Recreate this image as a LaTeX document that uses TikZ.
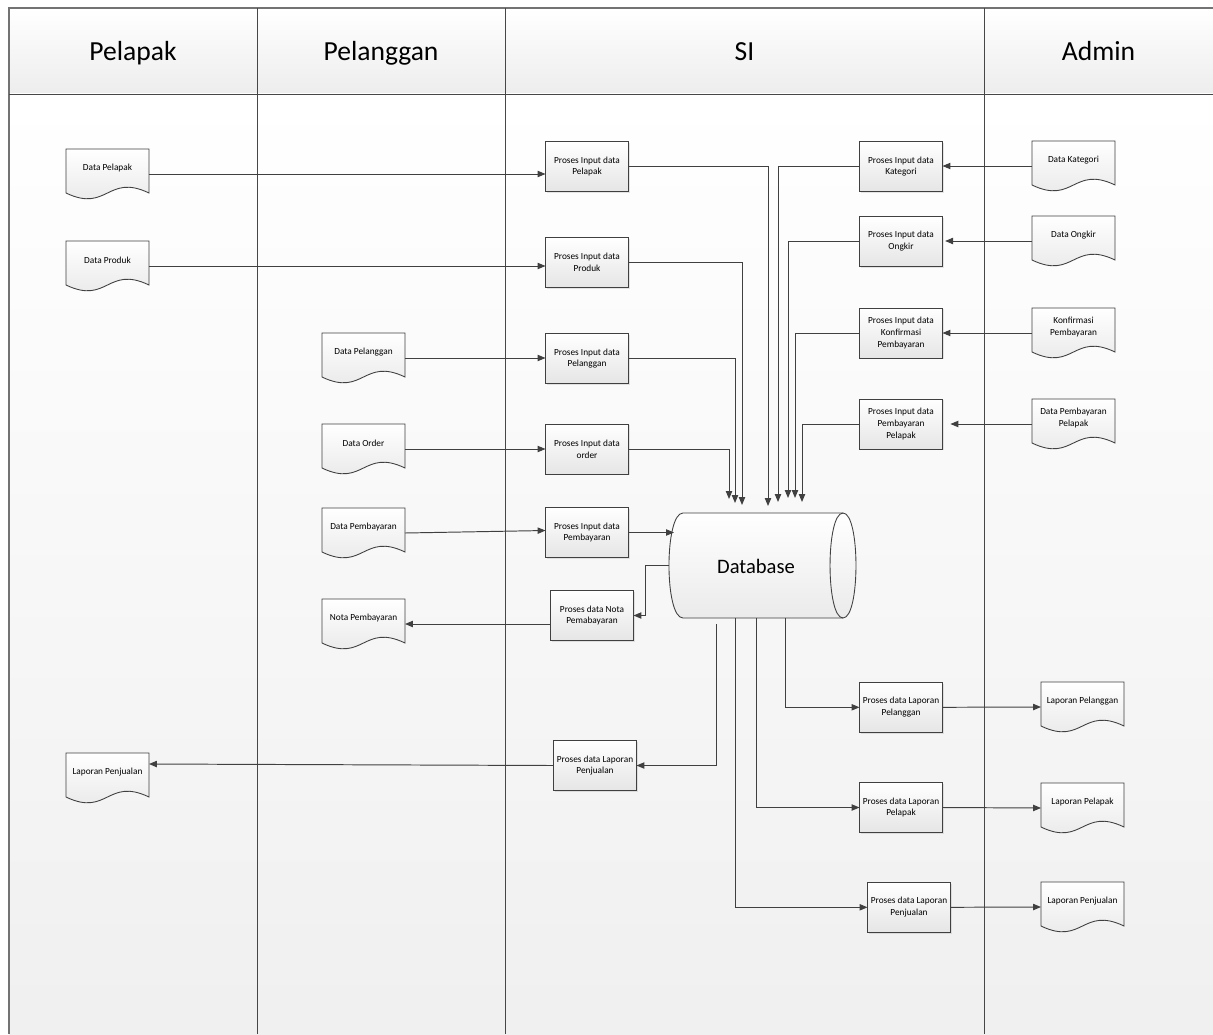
\documentclass[tikz,border=0pt]{standalone}
\usepackage{fontspec}
\setmainfont{Carlito}
\usepackage{tikz}
\usetikzlibrary{arrows.meta, calc, shadows}

\newcommand{\docnode}[4]{%
  \begin{scope}[shift={(#2,#3)}]
    \draw[docline] (0,0) -- (83,0) -- (83,44) .. controls (41.5,24) and (41.5,64) .. (0,44) -- cycle;
    \node[docbox] (#1) at (41.5,25) {};
    \node[doctext] (#1-text) at (41.5,19) {#4};
  \end{scope}}

\begin{document}
\begin{tikzpicture}[
		x=0.02cm, y=-0.02cm,
		every node/.style={inner sep=0pt, outer sep=0pt},
		frame/.style={draw=black!55, line width=0.9pt},
		lane/.style={draw=black!72, line width=0.55pt},
		header/.style={font=\fontsize{15.7}{18}\selectfont, text height=10pt, text depth=0pt},
		procbox/.style={rectangle, draw=black!75, line width=0.5pt, top color=white, bottom color=black!10,
			minimum width=1.66cm, minimum height=1cm, align=center, font=\fontsize{5.3}{6.6}\selectfont,
			drop shadow={shadow xshift=0.7pt, shadow yshift=-0.7pt, opacity=0.2}},
		docline/.style={draw=black!75, line width=0.5pt, top color=white, bottom color=black!10},
		docbox/.style={rectangle, minimum width=1.66cm, minimum height=1cm},
		doctext/.style={align=center, font=\fontsize{5.3}{6.6}\selectfont},
		dbline/.style={draw=black!75, line width=0.5pt},
		dbbox/.style={rectangle, minimum width=3.74cm, minimum height=2.1cm},
		dbtext/.style={font=\fontsize{11.7}{14}\selectfont, text height=8pt, text depth=0pt},
		flow/.style={draw=black!75, line width=0.55pt, -{Triangle[length=4.5pt, width=3.6pt]}}
	]
  \useasboundingbox (0,0) rectangle (1213,1034);
  \shade[top color=white, bottom color=black!7] (9,8) rectangle (1213,94);
  \shade[top color=white, bottom color=black!6] (9,94) rectangle (1213,1034);
  \draw[frame] (9,1034) -- (9,8) -- (1213,8);
  \draw[lane] (9,94) -- (1213,94);
  \foreach \x in {257,505,984}
    \draw[lane] (\x,8) -- (\x,1034);

  \node[header] (hpelapak) at (133,52) {Pelapak};
  \node[header] (hpelanggan) at (381,52) {Pelanggan};
  \node[header] (hsi) at (744.5,52) {SI};
  \node[header] (hadmin) at (1098.5,52) {Admin};

  \docnode{dpelapak}{66}{149}{Data Pelapak}
  \docnode{dproduk}{66}{241}{Data Produk}
  \docnode{dlapjual1}{66}{753}{Laporan Penjualan}
  \docnode{dpelanggan}{322}{333}{Data Pelanggan}
  \docnode{dorder}{322}{424}{Data Order}
  \docnode{dpembayaran}{322}{508}{Data Pembayaran}
  \docnode{dnota}{322}{599}{Nota Pembayaran}
  \docnode{dkategori}{1032}{141}{Data Kategori}
  \docnode{dongkir}{1032}{216}{Data Ongkir}
  \docnode{dkonfirmasi}{1032}{308}{Konfirmasi\\Pembayaran}
  \docnode{dpembpelapak}{1032}{399}{Data Pembayaran\\Pelapak}
  \docnode{dlappelanggan}{1041}{682}{Laporan Pelanggan}
  \docnode{dlappelapak}{1041}{783}{Laporan Pelapak}
  \docnode{dlapjual2}{1041}{882}{Laporan Penjualan}

  \node[procbox] (pipelapak) at (587,166.5) {Proses Input data\\Pelapak};
  \node[procbox] (piproduk) at (587,262.5) {Proses Input data\\Produk};
  \node[procbox] (pipelanggan) at (587,358.5) {Proses Input data\\Pelanggan};
  \node[procbox] (piorder) at (587,449) {Proses Input data\\order};
  \node[procbox] (pipembayaran) at (587,532.5) {Proses Input data\\Pembayaran};
  \node[procbox] (pnota) at (592,615.5) {Proses data Nota\\Pemabayaran};
  \node[procbox] (plapjual1) at (595,765.5) {Proses data Laporan\\Penjualan};
  \node[procbox] (pikategori) at (901,166.5) {Proses Input data\\Kategori};
  \node[procbox] (piongkir) at (901,241.3) {Proses Input data\\Ongkir};
  \node[procbox] (pikonfirmasi) at (901,333) {Proses Input data\\Konfirmasi\\Pembayaran};
  \node[procbox] (pipembpelapak) at (901,424) {Proses Input data\\Pembayaran\\Pelapak};
  \node[procbox] (plappelanggan) at (901,707.3) {Proses data Laporan\\Pelanggan};
  \node[procbox] (plappelapak) at (901,807.5) {Proses data Laporan\\Pelapak};
  \node[procbox] (plapjual2) at (909,907.3) {Proses data Laporan\\Penjualan};

  % database
  \shade[dbline, top color=white, bottom color=black!8] (683,513) -- (843,513)
    .. controls (860.3,513) and (860.3,618) .. (843,618) -- (683,618)
    .. controls (664.3,618) and (664.3,513) .. (683,513) -- cycle;
  \draw[dbline] (843,513) .. controls (825.7,513) and (825.7,618) .. (843,618);
  \node[dbbox] (db) at (762.5,565.5) {};
  \node[dbtext] (db-text) at (756,566) {Database};

  \coordinate (in1) at (768,506);
  \coordinate (in2) at (742,505);
  \coordinate (in3) at (735,503);
  \coordinate (in4) at (729,499);
  \coordinate (in5) at (778,502);
  \coordinate (in6) at (788,498);
  \coordinate (in7) at (795,498);
  \coordinate (in8) at (802,502);
  \coordinate (in9) at (674,532.5);
  \coordinate (out1) at (716,624);
  \coordinate (out2) at (735,618);
  \coordinate (out3) at (756,618);
  \coordinate (out4) at (785,618);

  \draw[flow] (dpelapak.east) -- (dpelapak.east -| pipelapak.west);
  \draw[flow] (dproduk.east) -- (dproduk.east -| piproduk.west);
  \draw[flow] (dpelanggan.east) -- (dpelanggan.east -| pipelanggan.west);
  \draw[flow] (dorder.east) -- (dorder.east -| piorder.west);
  \draw[flow] (dpembayaran.east) -- ($(pipembayaran.west)+(0,-2)$);
  \draw[flow] (dkategori.west) -- (dkategori.west -| pikategori.east);
  \draw[flow, shorten >=1.5pt] (dongkir.west) -- (dongkir.west -| piongkir.east);
  \draw[flow] (dkonfirmasi.west) -- (dkonfirmasi.west -| pikonfirmasi.east);
  \draw[flow, shorten >=4.5pt] (dpembpelapak.west) -- (dpembpelapak.west -| pipembpelapak.east);

  \draw[flow] (pipelapak.east) -| (in1);
  \draw[flow] (piproduk.east) -| (in2);
  \draw[flow] (pipelanggan.east) -| (in3);
  \draw[flow] (piorder.east) -| (in4);
  \draw[flow] (pikategori.west) -| (in5);
  \draw[flow] (piongkir.west) -| (in6);
  \draw[flow] (pikonfirmasi.west) -| (in7);
  \draw[flow] (pipembpelapak.west) -| (in8);
  \draw[flow] (pipembayaran.east) -- (in9);

  \draw[flow] (db.west) -- ++(-23.5,0) |- (pnota.east);
  \draw[flow] (pnota.west |- dnota.east) -- (dnota.east);
  \draw[flow] (out1) |- (plapjual1.east);
  \draw[flow] (plapjual1.west) -- ($(dlapjual1.north east)+(0,11)$);
  \draw[flow] (out4) |- (plappelanggan.west);
  \draw[flow] (out3) |- (plappelapak.west);
  \draw[flow] (out2) |- (plapjual2.west);
  \draw[flow] (plappelanggan.east) -- (dlappelanggan.west);
  \draw[flow] (plappelapak.east) -- (dlappelapak.west);
  \draw[flow] (plapjual2.east) -- (dlapjual2.west);
\end{tikzpicture}
\end{document}
